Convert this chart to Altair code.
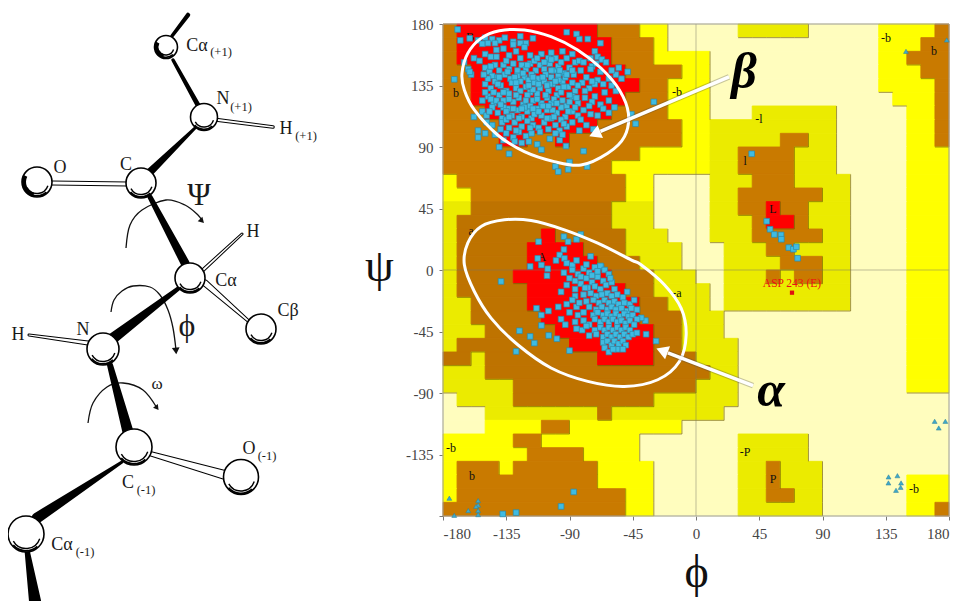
import altair as alt
import pandas as pd

SERIF = "Liberation Serif"

# ---------- Ramachandran region map: 36 rows (psi 180 -> -180), 36 columns (phi -180 -> 180)
# R red, B brown, D darker brown, Y yellow, G green-yellow, P pale
REGION_ROWS = [
    "1B 10R 3B 2Y 5P 5G 5P 4Y 1B",
    "1B 11R 3B 1Y 15P 3Y 2B",
    "1B 11R 3B 4Y 12P 2Y 3B",
    "2B 11R 4B 2Y 12P 3Y 2B",
    "2B 12R 2B 3Y 12P 4Y 1B",
    "2B 11R 3B 3Y 13P 3Y 1B",
    "3B 9R 4B 3Y 3P 6G 5P 2Y 1B",
    "4B 7R 6B 2Y 9G 5P 2Y 1B",
    "4B 2R 2B 1R 8B 2Y 5G 2B 2G 5P 2Y 1B",
    "14B 5Y 2G 4B 3G 5P 3Y",
    "12B 7Y 2G 4B 3G 5P 3Y",
    "1Y 12B 2Y 4P 3G 3B 4G 4P 3Y",
    "2Y 11B 2Y 4P 2G 6B 2G 4P 3Y",
    "2G 10D 3G 4P 2G 2B 1R 2B 3G 4P 3Y",
    "1G 11D 3G 4P 3G 1B 2R 1B 3G 4P 3Y",
    "1G 6D 1R 5D 3G 3P 3G 5B 2G 4P 3Y",
    "1G 5D 4R 3D 4G 3P 3G 2B 4G 4P 3Y",
    "1G 5D 5R 3D 3G 3P 4G 3B 2G 4P 3Y",
    "1G 4D 7R 3D 3G 2P 3G 1B 1G 2B 2G 4P 3Y",
    "1G 5D 7R 2D 4G 1P 9G 4P 3Y",
    "2G 4D 8R 2D 3G 1P 9G 4P 3Y",
    "2G 5D 7R 3D 3G 13P 3Y",
    "3G 5D 7R 2D 3G 13P 3Y",
    "1G 8D 6R 2D 4G 12P 3Y",
    "2D 1G 8D 4R 3D 3G 12P 3Y",
    "3G 16D 2G 12P 3Y",
    "5G 13D 3G 12P 3Y",
    "1P 4G 10D 6G 15P",
    "3P 8G 1D 8G 16P",
    "3P 4Y 2B 8Y 19P",
    "5Y 2B 7Y 7P 5G 10P",
    "6Y 4B 4Y 7P 5G 10P",
    "1Y 3B 1Y 6B 4Y 6P 2G 1B 3G 9P",
    "1Y 10B 4Y 6P 2G 1B 3G 6P 3Y",
    "1Y 12B 2Y 6P 2G 2B 2G 6P 3Y",
    "13B 2Y 6P 6G 6P 2Y 1B",
]
REGION_CODES = ["R", "B", "D", "Y", "G", "P"]
REGION_COLORS = ["#FF0000", "#C97A00", "#BE7300", "#FFFF00", "#EBEB00", "#FFFDBE"]
REGION_RANK = {"R": 3, "B": 2, "D": 2, "Y": 1, "G": 1, "P": 0}

PHI_TICKS = [-180, -135, -90, -45, 0, 45, 90, 135, 180]
PSI_TICKS = [-180, -135, -90, -45, 0, 45, 90, 135, 180]

# ---------- residues (phi, psi)
BETA_RESIDUES = [
 (-92,174),(-85,172.7),(-116,169.5),(-83,169),(-77,169),(-140,168),(-136,170),(-130,167),(-125,171),(-121,166),(-145,169),(-150,170),
 (-155,168),(-152,165.5),(-148,166),(-143,166),(-137,162),(-130,165),(-125,166),(-122,163),(-68,166),(-72,160),(-70,156),
 (-158,155),(-154,153),(-150,158),(-146,156),(-142,161),(-133,157),(-128,160),(-118,157),(-110,158),(-103,159),(-95,160),(-100,155),
 (-92,155),(-86,152),(-83,153),(-75,155),(-74,149),(-67,154),(-71,151),(-64,152),(-165,152),(-162,147),(-160,143),(-161,145),
 (-150,148),(-147,145),(-143,150),(-140,146),(-137,150),(-133,147),(-130,151),(-127,146),(-124,150),(-121,147),(-118,151),(-114,146),
 (-111,150),(-108,147),(-104,151),(-101,146),(-98,149),(-94,144),(-90,148),(-87,143),(-82,146),(-78,141),(-145,142),(-141,141),
 (-136,143),(-132,140),(-127,142),(-122,141),(-117,143),(-112,140),(-107,143),(-103,141),(-98,142),
 (-150,136),(-146,133),(-143,138),(-139,135),(-135,131),(-131,137),(-128,133),(-125,138),(-121,134),(-118,130),(-115,137),(-111,133),
 (-108,138),(-105,131),(-102,136),(-98,133),(-95,138),(-91,134),(-86,131),(-81,137),(-76,133),(-70,139),(-66,136),(-62,140),(-60,135),
 (-65,130),(-57,131),(-72,127),
 (-152,124),(-148,127),(-144,122),(-140,128),(-137,124),(-133,129),(-130,123),(-126,126),(-123,121),(-120,128),(-116,124),(-113,129),
 (-110,122),(-106,126),(-103,122),(-99,128),(-95,124),(-92,120),(-88,127),(-84,122),(-79,126),(-74,123),(-68,121),(-62,124),(-58,119),
 (-152,116),(-149,113),(-145,119),(-141,115),(-138,111),(-134,118),(-131,113),(-127,117),(-124,112),(-120,116),(-117,111),(-113,118),
 (-110,113),(-106,117),(-103,111),(-99,115),(-96,119),(-93,112),(-88,116),(-84,113),(-80,117),(-75,114),(-70,113),(-66,118),(-62,115),
 (-158,112),(-149,108),(-145,106),(-138,108),(-133,104),(-129,108),(-124,105),(-120,109),(-116,106),(-112,104),(-108,108),(-105,103),
 (-100,106),(-97,102),(-92,105),(-88,108),(-83,102),(-78,106),(-73,103),
 (-155,102),(-155,97),(-150,100),(-143,99),(-139,103),(-135,100),(-130,97),(-126,101),(-121,98),(-117,100),(-111,101),(-104,96),(-100,100),
 (-97,95),(-92.5,90.7),(-95,99),(-137,95),(-129,94),(-124,93),(-119,94),(-140,90),(-113,92),
 (-133,85),(-80,87),(-90,79),(-100,75.7),(-98,72),(-91,73.6),(-77.5,75.7),(-172,139.5),(-169.6,176),(-167.7,168),(-161,169.5),(-48.6,145),
 (-30,123),(-46,114),(-43,107),(-55,148),(-53,140),(-57,143),(-60,146),(-110,88),
 (-148,140),(-144,130),(-140,141),(-137,130),(-133,125),(-129,141),(-125,131),(-121,124),(-119,139),(-116,132),(-113,125),(-109,141),
 (-107,128),(-104,136),(-101,125),(-98,139),(-96,130),(-93,141),(-90,128),(-88,137),(-85,126),(-130,118),(-126,111),(-122,119),(-115,114),
 (-109,120),(-102,117),(-96,110),(-90,123),(-137,119),(-142,124),(-147,116),(-135,110),(-128,102),(-118,104),(-106,111),(-94,107),(-82,110),
 (-76,120),(-72,136),(-68,145),(-75,147),(-80,152),(-88,158),(-96,152),(-105,155),(-115,153),(-125,155),(-135,153),(-142,156),
 (-151,143),(-146,149),(-141,136),(-134,145),(-128,137),(-123,144),(-119,135),(-116,141),(-112,136),(-106,135),(-103,146),(-100,138),
 (-94,134),(-92,143),(-84,135),(-79,131),(-74,138),(-150,130),(-146,125),(-139,121),(-135,116),(-128,128),(-118,120),(-112,116),(-105,120),
 (-99,122),(-91,116),(-86,119),(-120,150),(-113,155),(-108,152),(-103,154),(-97,146),(-88,146),(-133,112),(-124,118),(-116,118),(-101,112),
]
ALPHA_RESIDUES = [
 (-138.7,-8.4),(-125.6,-44.5),(-118,-48.6),(-115,-53.5),(-128,-59.6),(-104.8,-47.9),(-99,-50.3),(-90,-59),(-28.4,-52),(-35.5,-47),(-36,-37),
 (-113.5,-28),(-110,-33),(-110,-40.6),(-105,-30),(-118,2.6),(-105.5,0.9),(-106,-4.2),(-112,20.7),(-94,24.4),(-91,20.7),(-85,22.4),(-82,26),
 (-94,15),(-97,11),(-112.6,8.5),(-99.6,7),(-93.6,8.5),(-92,5),(-88,3.6),(-67.5,2.4),(-110,3.6),
 (-88,0),(-84,-3),(-90,-6),(-80,1),(-76,-2),(-72,2),(-68,3),(-65,0),(-62,-3),(-78,-6),(-74,-9),(-70,-5),(-66,-8),(-82,-10),(-77,-13),(-72,-12),
 (-68,-14),(-64,-11),(-60,-9),(-58,-14),(-86,-14),(-92,-11),(-80,-18),(-75,-17),(-71,-19),(-67,-18),(-63,-17),(-60,-19),(-56,-18),(-52,-20),(-49,-16),
 (-78,-23),(-73,-22),(-69,-24),(-65,-22),(-62,-24),(-58,-23),(-55,-25),(-51,-24),(-47,-25),(-44,-22),(-85,-27),(-76,-27),(-71,-29),(-67,-27),(-63,-29),
 (-60,-27),(-57,-29),(-53,-28),(-49,-30),(-46,-28),(-42,-29),(-39,-35),(-90,-31),(-84,-33),(-80,-31),(-73,-33),(-70,-31),(-66,-33),(-63,-32),(-60,-34),
 (-57,-32),(-54,-34),(-51,-32),(-48,-34),(-45,-33),(-42,-36),(-96,-36),(-93,-40),(-86,-38),(-80,-37),(-76,-40),(-72,-36),(-68,-38),(-65,-36),(-62,-38),
 (-59,-36),(-56,-38),(-53,-37),(-50,-39),(-47,-37),(-44,-40),(-85,-43),(-81,-44),(-78,-41),(-72,-44),(-68,-42),(-65,-44),(-62,-42),(-59,-44),(-56,-42),
 (-53,-44),(-50,-42),(-47,-44),(-76,-48),(-71,-47),(-66,-49),(-63,-47),(-60,-49),(-57,-47),(-54,-49),(-51,-47),(-48,-49),(-45,-47),(-42,-46),(-66,-53),
 (-63,-52),(-60,-55),(-58,-52),(-55,-54),(-52,-52),(-50,-55),(-56,-58),(-52,-58),(-65,-57),(-62,-60),(-59,-58),
 (-86,-19),(-83,-24),(-88,-22),(-79,-13),(-74,-4),(-86,-8),(-94,-2),(-96,-16),(-98,-27),(-92,-25),(-82,-5),(-70,-1),(-61,-6),(-78,4),(-85,7),(-75,10),
]
OTHER_RESIDUES = [
 (-87,-162.4),(-96,-173),(-128,-177.5),(-137.5,-178.5),
 (39.6,85),(50.3,35.7),(52.7,29.8),(55.7,26),(60.5,25.7),(60.7,22.5),(66,16.4),(69.3,15.2),(71.4,17),(72.3,8.6),
]
GLYCINE_RESIDUES = [
 (169.8,-110.7),(177.4,-110.7),(172.7,-115.6),(137,-151.4),(136.9,-155.8),(143.3,-150.5),(145.9,-155.8),(145.6,-159),(142.3,-161.2),
 (149.4,160),(178.4,168.3),(-175.5,-167),(-155,-168.7),(-155,-172),(-156.5,-173),(-162,-176),(-155,-176),(-155,-179),(-172,-179.5),
]
OUTLIER = [(68.3, -16.6)]
OUTLIER_LABEL = [("ASP 243 (E)", 68.3, -10)]
REGION_LABELS = [
 ("B",-160.8,170.5),("b",-170.7,129.6),("-b",-13.5,130.3),("a",-160,28.7),("A",-109.6,9.7),("-a",-13.5,-16.6),("-b",-174.3,-130),
 ("b",-159.4,-150.4),("-b",135.2,169.8),("b",169.3,160.3),("-l",44.8,110.6),("l",34.9,79.9),("L",54.8,44.8),("-P",34.9,-132.9),
 ("P",54.8,-152.6),("-b",155.1,-160),
]

BETA_OVAL = [(-166.5,143.9),(-162.4,158.5),(-153,169.5),(-139.9,175.1),(-122.1,175.6),(-103.1,170.7),(-84.2,161),(-67.5,147.6),(-54.5,131.7),
 (-48.1,114.6),(-50.9,97.6),(-62.8,85.4),(-81.8,76.8),(-100.8,79.3),(-122.1,86.6),(-141.1,98.8),(-157.7,117.1),(-164.8,131.7)]
ALPHA_OVAL = [(-162.4,19.6),(-152.9,31.8),(-136.3,36.7),(-117.3,36.2),(-93.6,29.4),(-69.9,19.6),(-46.2,7.4),(-39.1,3.8),(-22.5,-10.8),(-10.6,-27.9),
 (-7,-47.4),(-11.8,-66.9),(-27.2,-80.3),(-50.9,-85.2),(-77,-81.5),(-103.1,-71.7),(-126.8,-54.7),(-145.8,-35.2),(-157.7,-15.7),(-164.8,3.8)]
POINTER_LINES = [("beta",23.5,141.3,-68,101.5),("alpha",40.6,-84.6,-20,-60.6)]
POINTER_HEADS = [(-72,99.5,247),(-24.2,-59,291)]
GREEK_LABELS = [("β",34.2,144),("α",53.4,-88.3)]

# ---------- backbone drawing (picture units of the left panel)
ATOMS = [
 ("Ca+1",166,47,11.5),("N+1",204,117,13.5),("C",141,183,15),("O",37,182,15),("Ca",190,278,15),
 ("Cb",261,329,15),("N",103,349,16),("C-1",134,447,18),("O-1",241,477,17.5),("Ca-1",26,534,18),
]
SOLID_BONDS = [
 (172,36,3.5,188,15,4.5),(173,60,3.5,199,107,5),(195,128,3,150,172,8),(150,197,5,185,263,9),
 (183,285,4,112,339,11),(110,365,6,128,432,11),(122,462,3,37,518,11),(27,550,5,35,601,12),
]
OPEN_BONDS = [
 (218,120,4,273,127,3.5),(52,183,5,128,184,5),(202,271,4,242,234,3),(205,283,7,253,325,3),
 (88,343,5,29,335,3),(148,453,5,225,475,10),
]
ROTATION_CURVES = {
 "psi": [(126,248),(130,225),(142,210),(166,200),(185,205),(198,215),(202,221)],
 "phi": [(111,312),(114,300),(122,291),(133,286),(150,287),(160,295),(168,310),(173,328),(176,350)],
 "omega": [(88,423),(93,403),(107,387),(123,383),(143,390),(157,408)],
}
ROTATION_HEADS = [(202,221,136,42),(176,351,175,60),(157,408,143,36)]
DIAGRAM_TEXT = [
 ("Cα",197,46,18),("(+1)",221,52,12.5),("N",223,99,18),("(+1)",241,107,12.5),("H",286,129,18),("(+1)",306,136,12.5),
 ("O",60,168,18),("C",126,165,18),("Ψ",199,195,32),("H",253,232,18),("Cα",226,281,18),("Cβ",288,311,18),
 ("ϕ",187,326,32),("N",83,330,18),("H",18,335,18),("ω",157,384,17),("O",249,449,18),("(-1)",267,456,12.5),
 ("C",128,483,18),("(-1)",146,490,12.5),("Cα",62,545,18),("(-1)",85,552,12.5),
]

# ---------- build tables
cells, edges = [], []
grid = []
for row in REGION_ROWS:
    g = []
    for run in row.split():
        g += [run[-1]] * int(run[:-1])
    grid.append(g)
for j, g in enumerate(grid):
    start = 0
    for i in range(1, 37):
        if i == 36 or g[i] != g[start]:
            cells.append(dict(code=g[start], a=-180 + 10 * start, b=-180 + 10 * i, c=180 - 10 * j, d=170 - 10 * j))
            start = i
    for i, code in enumerate(g):
        r = REGION_RANK[code]
        if r == 0:
            continue
        if j < 35 and REGION_RANK[grid[j + 1][i]] < r:
            edges.append(dict(a=-180 + 10 * i, b=-170 + 10 * i, c=170 - 10 * j, d=170 - 10 * j))
        if i < 35 and REGION_RANK[g[i + 1]] < r:
            edges.append(dict(a=-170 + 10 * i, b=-170 + 10 * i, c=180 - 10 * j, d=170 - 10 * j))


def pts(rows):
    return pd.DataFrame(rows, columns=["phi", "psi"])


phi_scale = alt.Scale(domain=[-180, 180], nice=False, zero=False)
psi_scale = alt.Scale(domain=[-180, 180], nice=False, zero=False)
axis_common = dict(
    labelFont=SERIF, labelFontSize=15, labelColor="#444444", tickSize=4, tickColor="#777777",
    domain=False, grid=False, titleFont=SERIF, titleFontWeight="normal", titleColor="#111111",
)
phi_axis = alt.Axis(values=PHI_TICKS, labelExpr="'' + datum.value", title="ϕ", titleFontSize=46, titlePadding=9,
                    labelPadding=6, **axis_common)
psi_axis = alt.Axis(values=PSI_TICKS, labelExpr="datum.value == -180 ? '' : '' + datum.value", title="ψ", titleAngle=0,
                    titleFontSize=46, titleX=-64, titleY=266, labelPadding=6, **axis_common)
PHI = alt.X("phi:Q", scale=phi_scale, axis=phi_axis)
PSI = alt.Y("psi:Q", scale=psi_scale, axis=psi_axis)
AX = alt.X("a:Q", scale=phi_scale, axis=phi_axis)
CY = alt.Y("c:Q", scale=psi_scale, axis=psi_axis)

base_rect = alt.Chart(pd.DataFrame(cells)).mark_rect(strokeWidth=0.9).encode(
    x=AX, x2="b:Q", y=CY, y2="d:Q",
    fill=alt.Fill("code:N", scale=alt.Scale(domain=REGION_CODES, range=REGION_COLORS), legend=None),
    stroke=alt.Stroke("code:N", scale=alt.Scale(domain=REGION_CODES, range=REGION_COLORS), legend=None),
)
edge_rules = alt.Chart(pd.DataFrame(edges)).mark_rule(color="#6E5A00", strokeWidth=1, opacity=0.65).encode(
    x=AX, x2="b:Q", y=CY, y2="d:Q")
frame = alt.Chart(pd.DataFrame([dict(a=-180, b=180, c=-180, d=180)])).mark_rect(fillOpacity=0, stroke="#9A9A9A", strokeWidth=1).encode(
    x=AX, x2="b:Q", y=CY, y2="d:Q")
zero_v = alt.Chart(pd.DataFrame([dict(a=0, c=-180, d=180)])).mark_rule(color="#777766", strokeWidth=0.8, opacity=0.6).encode(
    x=AX, y=CY, y2="d:Q")
zero_h = alt.Chart(pd.DataFrame([dict(a=-180, b=180, c=0)])).mark_rule(color="#777766", strokeWidth=0.8, opacity=0.6).encode(
    x=AX, x2="b:Q", y=CY)

region_text = alt.Chart(pd.DataFrame(REGION_LABELS, columns=["t", "phi", "psi"])).mark_text(
    font=SERIF, fontSize=12, color="#111111").encode(x=PHI, y=PSI, text="t:N")
squares = alt.Chart(pts(BETA_RESIDUES + ALPHA_RESIDUES + OTHER_RESIDUES)).mark_point(
    shape="square", filled=True, size=32, fill="#3FBBE2", stroke="#2D89A8", strokeWidth=0.7, opacity=1).encode(x=PHI, y=PSI)
triangles = alt.Chart(pts(GLYCINE_RESIDUES)).mark_point(
    shape="triangle-up", filled=True, size=24, fill="#3FA9C9", stroke="#2D7F99", strokeWidth=0.5, opacity=1).encode(x=PHI, y=PSI)
outlier = alt.Chart(pts(OUTLIER)).mark_point(shape="square", filled=True, size=18, fill="#E01010", opacity=1).encode(x=PHI, y=PSI)
outlier_text = alt.Chart(pd.DataFrame(OUTLIER_LABEL, columns=["t", "phi", "psi"])).mark_text(
    font=SERIF, fontSize=11.5, color="#EE1111").encode(x=PHI, y=PSI, text="t:N")


def oval(rows):
    df = pts(rows)
    df["o"] = range(len(df))
    return alt.Chart(df).mark_line(interpolate="cardinal-closed", color="#FFFFFF", strokeWidth=3).encode(
        x=PHI, y=PSI, order="o:Q")


ptr_rows = []
for name, a, b, c, d in POINTER_LINES:
    ptr_rows += [dict(n=name, o=0, phi=a, psi=b), dict(n=name, o=1, phi=c, psi=d)]
ptr_df = pd.DataFrame(ptr_rows)
ptr_shadow = alt.Chart(ptr_df).mark_line(color="#444444", strokeWidth=5.5, opacity=0.3).encode(x=PHI, y=PSI, detail="n:N", order="o:Q")
ptr_line = alt.Chart(ptr_df).mark_line(color="#FFFFFF", strokeWidth=3.5).encode(x=PHI, y=PSI, detail="n:N", order="o:Q")
ptr_head = alt.Chart(pd.DataFrame(POINTER_HEADS, columns=["phi", "psi", "a"])).mark_point(
    shape="triangle-up", filled=True, size=190, fill="#FFFFFF", opacity=1).encode(x=PHI, y=PSI, angle=alt.Angle("a:Q", scale=None))
greek_df = pd.DataFrame(GREEK_LABELS, columns=["t", "phi", "psi"])
greek = alt.Chart(greek_df).mark_text(font=SERIF, fontSize=50, fontStyle="italic", fontWeight="bold", color="#000000").encode(
    x=PHI, y=PSI, text="t:N")

rama = alt.layer(
    base_rect, edge_rules, zero_v, zero_h, frame, region_text, squares, triangles, outlier, outlier_text,
    oval(BETA_OVAL), oval(ALPHA_OVAL), ptr_shadow, ptr_line, ptr_head, greek,
).properties(width=506, height=492)

# ---------- backbone panel
dx_scale = alt.Scale(domain=[12, 352], nice=False, zero=False)
dy_scale = alt.Scale(domain=[516, 24], nice=False, zero=False)
DX = alt.X("x:Q", scale=dx_scale, axis=None)
DY = alt.Y("y:Q", scale=dy_scale, axis=None)


def bond_df(bonds, shrink=0):
    rows = []
    for k, (x0, y0, w0, x1, y1, w1) in enumerate(bonds):
        rows.append(dict(b=k, o=0, x=x0, y=y0, w=max(w0 - shrink, 0.5)))
        rows.append(dict(b=k, o=1, x=x1, y=y1, w=max(w1 - shrink, 0.5)))
    return pd.DataFrame(rows)


def trail(df, color):
    return alt.Chart(df).mark_trail(color=color, opacity=1).encode(
        x=DX, y=DY, size=alt.Size("w:Q", scale=None, legend=None), detail="b:N", order="o:Q")


curve_rows = []
for name, rows in ROTATION_CURVES.items():
    for k, (x, y) in enumerate(rows):
        curve_rows.append(dict(n=name, o=k, x=x, y=y))
curves = alt.Chart(pd.DataFrame(curve_rows)).mark_line(color="#111111", strokeWidth=1.3, interpolate="cardinal").encode(
    x=DX, y=DY, detail="n:N", order="o:Q")
curve_heads = alt.Chart(pd.DataFrame(ROTATION_HEADS, columns=["x", "y", "a", "s"])).mark_point(
    shape="triangle-up", filled=True, fill="#111111", opacity=1).encode(
    x=DX, y=DY, angle=alt.Angle("a:Q", scale=None), size=alt.Size("s:Q", scale=None, legend=None))

atom_df = pd.DataFrame(ATOMS, columns=["n", "x", "y", "r"])
atom_df["s"] = (atom_df["r"] * 2) ** 2
atoms = alt.Chart(atom_df).mark_point(shape="circle", filled=True, fill="#FFFFFF", stroke="#000000", strokeWidth=1.6, opacity=1).encode(
    x=DX, y=DY, size=alt.Size("s:Q", scale=None, legend=None))

arc_rows = []
for n, x, y, r in ATOMS:
    arc_rows.append(dict(x=x, y=y, r0=r - 4.2, r1=r - 2.8, t0=1.9, t1=4.2))
    arc_rows.append(dict(x=x, y=y, r0=r - 2.0, r1=r - 0.2, t0=2.4, t1=4.0))
    if n in ("O", "Ca+1"):
        arc_rows.append(dict(x=x, y=y, r0=r - 4.0, r1=r, t0=3.4, t1=5.2))
arcs = alt.Chart(pd.DataFrame(arc_rows)).mark_arc(color="#000000", opacity=1).encode(
    x=DX, y=DY,
    theta=alt.Theta("t0:Q", scale=None), theta2="t1:Q",
    radius=alt.Radius("r0:Q", scale=None), radius2="r1:Q")

diagram_text = alt.Chart(pd.DataFrame(DIAGRAM_TEXT, columns=["t", "x", "y", "s"])).mark_text(
    font=SERIF, color="#1A1A1A").encode(x=DX, y=DY, text="t:N", size=alt.Size("s:Q", scale=None, legend=None))

diagram = alt.layer(
    curves, curve_heads, trail(bond_df(SOLID_BONDS), "#000000"), trail(bond_df(OPEN_BONDS), "#000000"),
    trail(bond_df(OPEN_BONDS, 2), "#FFFFFF"), atoms, arcs, diagram_text,
).properties(width=340, height=492)

chart = alt.hconcat(diagram, rama, spacing=12).configure_view(stroke=None).properties(
    padding={"left": -4, "top": 4, "right": 0, "bottom": 0}, background="#FFFFFF")

chart.save("out.html", embed_options={"renderer": "svg", "actions": False})
